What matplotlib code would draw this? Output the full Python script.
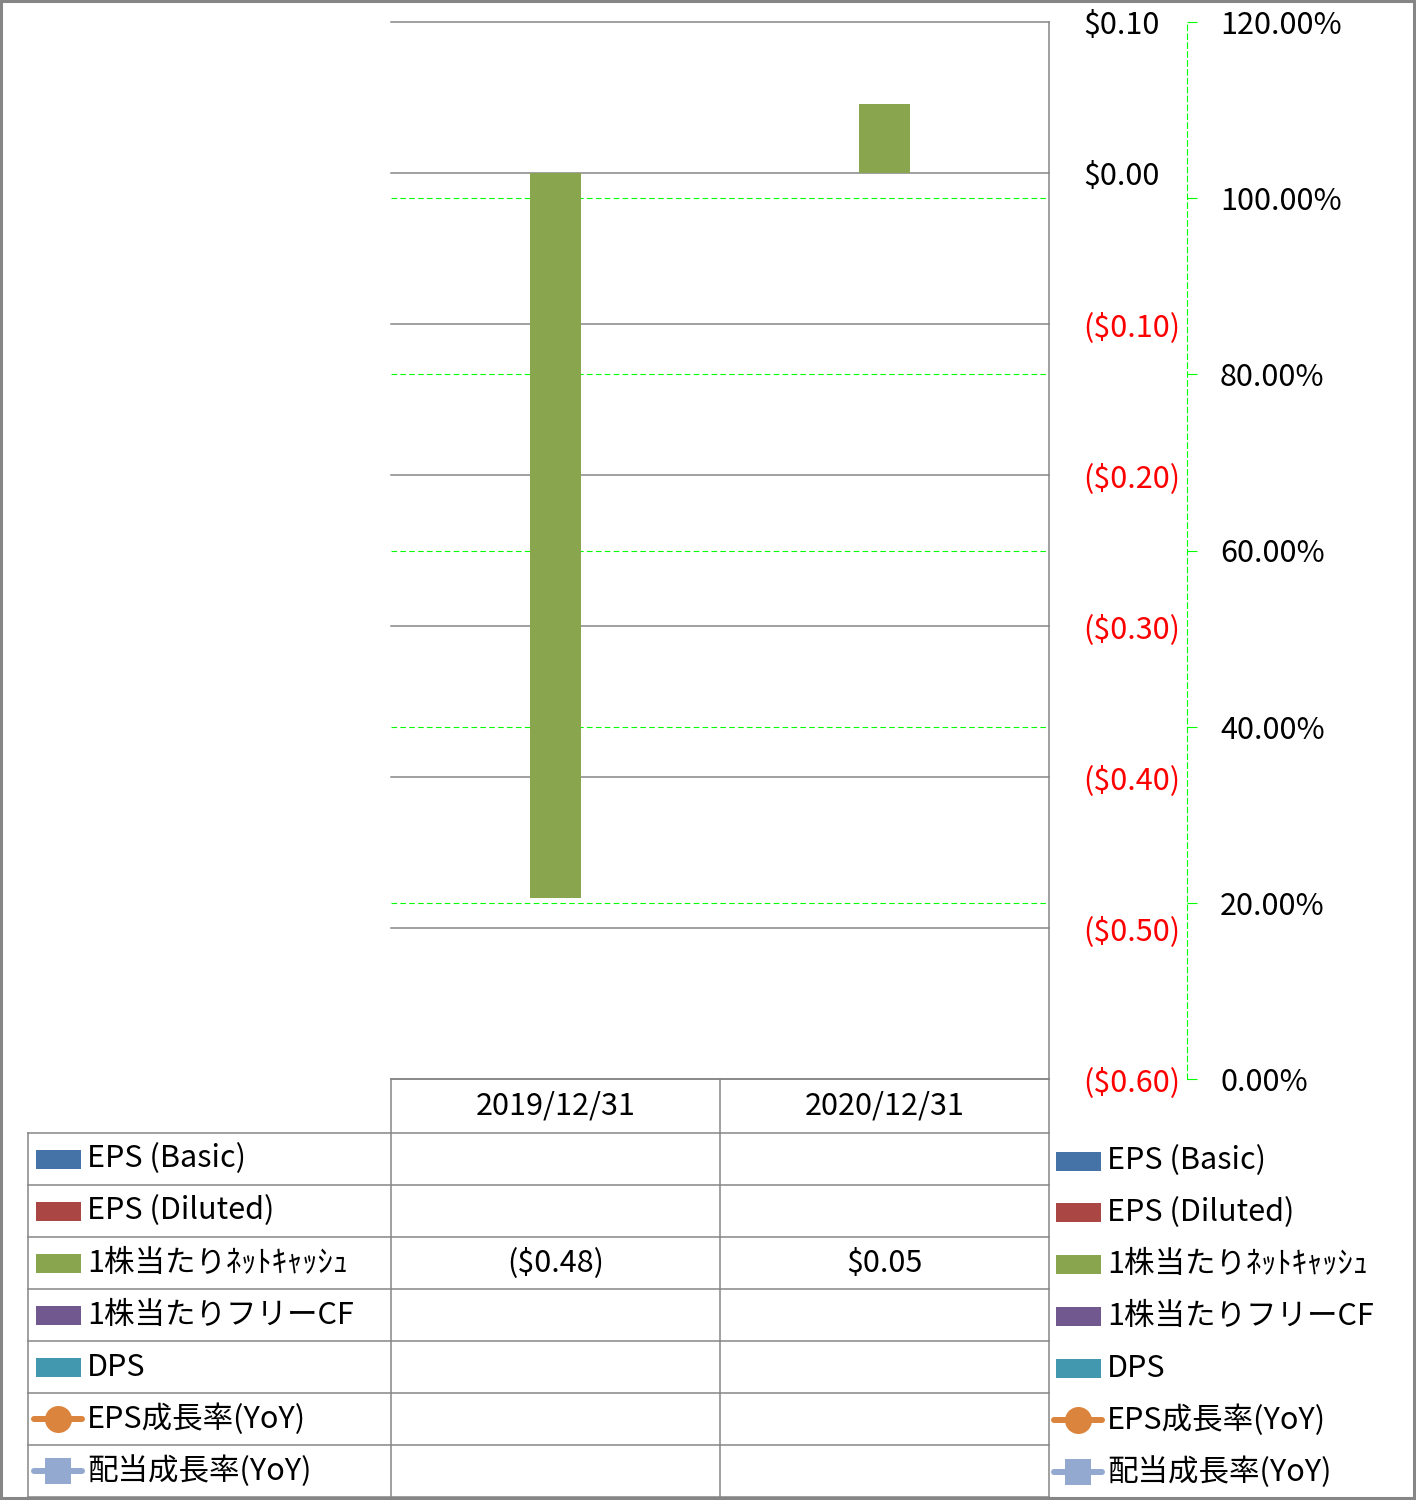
import numpy as np
import matplotlib.pyplot as plt
from matplotlib.patches import Rectangle
from matplotlib.lines import Line2D

plt.rcParams['font.family'] = ['Noto Sans CJK JP', 'DejaVu Sans']

# ---- data -------------------------------------------------------------
periods = ["2019/12/31", "2020/12/31"]
series_names = ["EPS (Basic)", "EPS (Diluted)", "1株当たりﾈｯﾄｷｬｯｼｭ",
                "1株当たりフリーCF", "DPS", "EPS成長率(YoY)", "配当成長率(YoY)"]
series_colors = ["#4572A7", "#AA4643", "#89A54E", "#71588F", "#4198AF",
                 "#DB843D", "#93A9CF"]
series_kind = ["bar", "bar", "bar", "bar", "bar", "o", "s"]

eps_basic = [None, None]
eps_diluted = [None, None]
net_cash_ps = [-0.48, 0.046]
fcf_ps = [None, None]
dps = [None, None]
eps_growth = [None, None]
div_growth = [None, None]
series_values = [eps_basic, eps_diluted, net_cash_ps, fcf_ps, dps, eps_growth, div_growth]

usd_ticks = [-0.6, -0.5, -0.4, -0.3, -0.2, -0.1, 0.0, 0.1]
pct_ticks = [0.0, 0.2, 0.4, 0.6, 0.8, 1.0, 1.2]

GRID = "#868686"; GREEN = "#00FF00"; RED = "#FF0000"
FS = 22
W, H = 1416, 1500
PX = 72 / 100  # points per pixel


def usd(v):
    if v is None:
        return ""
    v = round(v, 2)
    return f"(${-v:.2f})" if v < 0 else f"${v:.2f}"


fig = plt.figure(figsize=(W / 100, H / 100), dpi=100)
L, R, T, B = 391, 1049, 22, 1079
ax2 = fig.add_axes([L / W, 1 - B / H, (R - L) / W, (B - T) / H])
ax = fig.add_axes([L / W, 1 - B / H, (R - L) / W, (B - T) / H])
ax.set_zorder(2); ax2.set_zorder(1)
ax.patch.set_visible(False)

# ---- primary axis: bars -----------------------------------------------
x = np.arange(len(periods))
n_bars = series_kind.count("bar")
bw = 1 / (n_bars + 1.5)
bi = 0
for name, col, kind, vals in zip(series_names, series_colors, series_kind, series_values):
    if kind != "bar":
        continue
    off = (bi - (n_bars - 1) / 2) * bw
    bi += 1
    for xi, v in zip(x, vals):
        if v is not None:
            ax.bar(xi + off, v, width=bw, color=col, zorder=3)

ax.set_xlim(-0.5, len(periods) - 0.5)
ax.set_ylim(usd_ticks[0], usd_ticks[-1])
ax.set_yticks(usd_ticks)
ax.set_yticklabels([usd(v) for v in usd_ticks])
ax.yaxis.tick_right()
ax.tick_params(axis="y", length=0, pad=34 * PX, labelsize=FS)
for tk, v in zip(ax.yaxis.get_major_ticks(), usd_ticks):
    tk.label2.set_color(RED if v < 0 else "black")
ax.set_xticks([])
for v in usd_ticks:
    ax.axhline(v, color=GRID, lw=1.1, zorder=1, clip_on=False)
for s in ["left", "top", "bottom"]:
    ax.spines[s].set_visible(False)
ax.spines["right"].set_color(GRID)
ax.spines["right"].set_linewidth(1.1)

# ---- secondary axis: growth rates -------------------------------------
for name, col, kind, vals in zip(series_names, series_colors, series_kind, series_values):
    if kind == "bar":
        continue
    yv = [np.nan if v is None else v for v in vals]
    ax2.plot(x, yv, color=col, marker=kind, lw=4)
ax2.set_xlim(ax.get_xlim())
ax2.set_ylim(pct_ticks[0], pct_ticks[-1])
ax2.set_yticks(pct_ticks)
ax2.set_yticklabels([f"{v * 100:.2f}%" for v in pct_ticks])
ax2.yaxis.tick_right()
ax2.set_xticks([])
for v in pct_ticks[1:-1]:
    ax2.axhline(v, color=GREEN, lw=0.8, ls=(0, (5, 3)))
for s in ["left", "top", "bottom"]:
    ax2.spines[s].set_visible(False)
ax2.spines["right"].set_position(("axes", (1187 - L) / (R - L)))
ax2.spines["right"].set_color(GREEN)
ax2.spines["right"].set_linestyle((0, (5, 3)))
ax2.spines["right"].set_linewidth(0.8)
ax2.tick_params(axis="y", direction="out", length=10 * PX, width=0.8,
                color=GREEN, pad=23 * PX, labelsize=FS)

# ---- overlay: data table, legend, frame -------------------------------
ov = fig.add_axes([0, 0, 1, 1])
ov.set_xlim(0, W); ov.set_ylim(H, 0)
ov.axis("off"); ov.set_zorder(3); ov.patch.set_visible(False)

col_edges = [L + (R - L) * i / len(periods) for i in range(len(periods) + 1)]
TL = 28
head_top, row0, row_h = 1079, 1133, 52
n_rows = len(series_names)
tbl_bot = row0 + row_h * n_rows

lkw = dict(color=GRID, lw=1.1)
ov.plot([L, R], [head_top, head_top], **lkw)
for k in range(n_rows + 1):
    yy = row0 + k * row_h
    ov.plot([TL, R], [yy, yy], **lkw)
ov.plot([TL, TL], [row0, tbl_bot], **lkw)
for xe in col_edges:
    ov.plot([xe, xe], [head_top, tbl_bot], **lkw)

for i, p in enumerate(periods):
    cx = (col_edges[i] + col_edges[i + 1]) / 2
    ov.text(cx, (head_top + row0) / 2, p, ha="center", va="center", fontsize=FS)


def legend_key(x0, yc, col, kind):
    if kind == "bar":
        ov.add_patch(Rectangle((x0, yc - 9.5), 45, 19, color=col, lw=0))
    else:
        ov.add_line(Line2D([x0 - 2, x0 + 46], [yc, yc], color=col, lw=6 * PX,
                           solid_capstyle="round"))
        ov.add_line(Line2D([x0 + 22], [yc], color=col, marker=kind,
                           markersize=27 * PX, markeredgewidth=0))


for k, (name, col, kind, vals) in enumerate(zip(series_names, series_colors,
                                                   series_kind, series_values)):
    yc = row0 + (k + 0.5) * row_h
    legend_key(36, yc, col, kind)
    ov.text(87, yc, name, ha="left", va="center", fontsize=FS)
    for i, v in enumerate(vals):
        cx = (col_edges[i] + col_edges[i + 1]) / 2
        ov.text(cx, yc, usd(v), ha="center", va="center", fontsize=FS)

    # right-hand legend
    yr = 1161 + k * 51.8
    legend_key(1056, yr, col, kind)
    ov.text(1107, yr, name, ha="left", va="center", fontsize=FS)

ov.add_patch(Rectangle((1, 1), W - 3, H - 3, fill=False, edgecolor=GRID, lw=2.2))

fig.savefig("out.png", dpi=100)
